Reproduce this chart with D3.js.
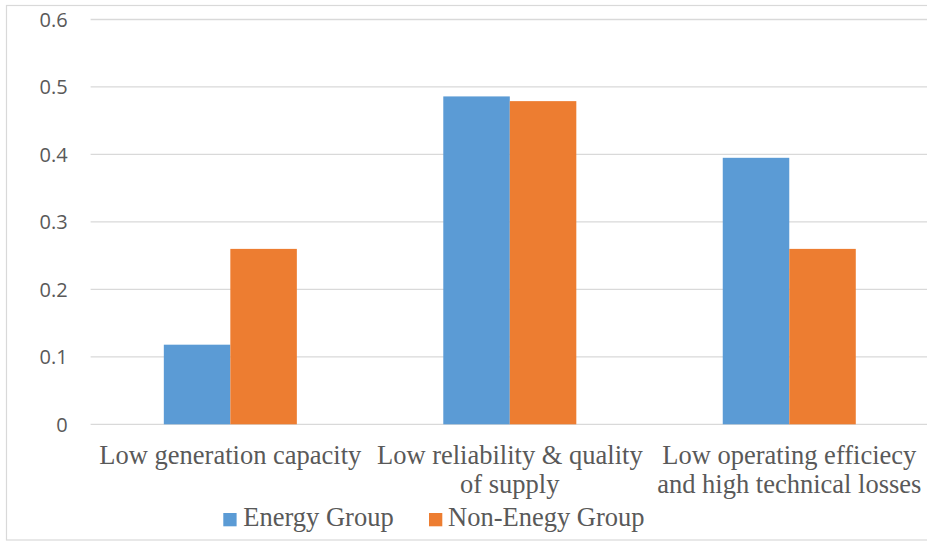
<!DOCTYPE html>
<html>
<head>
<meta charset="utf-8">
<script src="https://cdn.jsdelivr.net/npm/d3@7"></script>
<style>
  html, body { margin: 0; padding: 0; background: #fff; }
  svg { display: block; }
</style>
</head>
<body>
<svg id="chart" width="927" height="541"></svg>
<script>
// Problem categories and the share of respondents per group
const categories = [
  "Low generation capacity",
  "Low reliability & quality of supply",
  "Low operating efficiecy and high technical losses"
];
const seriesNames = ["Energy Group", "Non-Enegy Group"];
const energyGroup = [0.118, 0.486, 0.395];
const nonEnergyGroup = [0.26, 0.479, 0.26];
const yTicks = [0, 0.1, 0.2, 0.3, 0.4, 0.5, 0.6];
const colors = ["#5B9BD5", "#ED7D31"];

const seriesValues = [energyGroup, nonEnergyGroup];
const rows = categories.map((c, i) => ({
  category: c,
  values: seriesNames.map((s, j) => ({ series: s, value: seriesValues[j][i] }))
}));

const svg = d3.select("#chart");
const plot = { left: 90.6, right: 929, top: 19.5, bottom: 424.3 };
const textColor = "#595959";
const gridColor = "#d9d9d9";
const serif = "Liberation Serif";
const sans = "Open Sans";

// Outer chart border
svg.append("rect")
  .attr("x", 6.5).attr("y", 5.5)
  .attr("width", 960).attr("height", 534.5)
  .attr("fill", "none")
  .attr("stroke", gridColor)
  .attr("stroke-width", 1.2);

const y = d3.scaleLinear().domain([0, 0.6]).range([plot.bottom, plot.top]);
const x0 = d3.scaleBand().domain(categories)
  .range([plot.left, plot.right])
  .paddingInner(0.524).paddingOuter(0.262);
const x1 = d3.scaleBand().domain(seriesNames).range([0, x0.bandwidth()]).padding(0);
const color = d3.scaleOrdinal().domain(seriesNames).range(colors);

// Horizontal gridlines
svg.append("g").selectAll("line")
  .data(yTicks)
  .join("line")
  .attr("x1", plot.left).attr("x2", plot.right)
  .attr("y1", d => y(d)).attr("y2", d => y(d))
  .attr("stroke", gridColor).attr("stroke-width", 1.3);

// Value labels on the left
svg.append("g").selectAll("text")
  .data(yTicks)
  .join("text")
  .attr("x", plot.left - 23)
  .attr("y", d => y(d))
  .attr("dy", "0.36em")
  .attr("text-anchor", "end")
  .attr("fill", textColor)
  .attr("font-family", sans)
  .attr("font-size", 20)
  .text(d => d === 0 ? "0" : d3.format(".1f")(d));

// Bars
const groups = svg.append("g").selectAll("g")
  .data(rows)
  .join("g")
  .attr("transform", d => `translate(${x0(d.category)},0)`);

groups.selectAll("rect")
  .data(d => d.values)
  .join("rect")
  .attr("x", d => x1(d.series))
  .attr("y", d => y(d.value))
  .attr("width", x1.bandwidth())
  .attr("height", d => y(0) - y(d.value))
  .attr("fill", d => color(d.series));

// Category labels under the axis, wrapped to the category step
const catLabels = svg.append("g").selectAll("text")
  .data(categories)
  .join("text")
  .attr("x", d => x0(d) + x0.bandwidth() / 2)
  .attr("y", plot.bottom + 40)
  .attr("text-anchor", "middle")
  .attr("fill", textColor)
  .attr("font-family", serif)
  .attr("font-size", 26.5)
  .text(d => d)
  .call(wrap, x0.step());

function wrap(texts, width) {
  texts.each(function() {
    const text = d3.select(this);
    const words = text.text().split(/\s+/);
    const xPos = text.attr("x");
    const yPos = +text.attr("y");
    text.text(null);
    let line = [];
    let lineNo = 0;
    let tspan = text.append("tspan").attr("x", xPos).attr("y", yPos);
    for (const w of words) {
      line.push(w);
      tspan.text(line.join(" "));
      if (tspan.node().getComputedTextLength() > width && line.length > 1) {
        line.pop();
        tspan.text(line.join(" "));
        line = [w];
        lineNo += 1;
        tspan = text.append("tspan").attr("x", xPos).attr("y", yPos + lineNo * 29).text(w);
      }
    }
  });
}

// Legend
const legendItems = [
  { name: seriesNames[0], sx: 223.3, tx: 243.3 },
  { name: seriesNames[1], sx: 429, tx: 448 }
];
const legend = svg.append("g");
legend.selectAll("rect")
  .data(legendItems)
  .join("rect")
  .attr("x", d => d.sx).attr("y", 513)
  .attr("width", 13.3).attr("height", 13.3)
  .attr("fill", d => color(d.name));
legend.selectAll("text")
  .data(legendItems)
  .join("text")
  .attr("x", d => d.tx).attr("y", 526)
  .attr("fill", textColor)
  .attr("font-family", serif)
  .attr("font-size", 26.5)
  .text(d => d.name);
</script>
</body>
</html>
